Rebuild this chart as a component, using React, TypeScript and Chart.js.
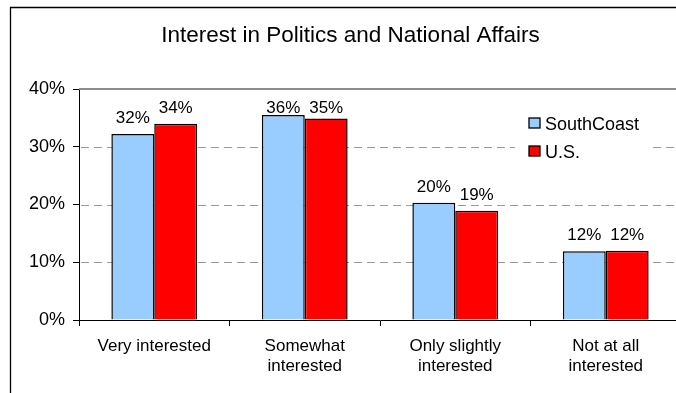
import React, { useEffect, useRef } from "react";
import { Chart, registerables } from "chart.js";

Chart.register(...registerables);

const chartTitle = "Interest in Politics and National Affairs";
const categories = [
  ["Very interested"],
  ["Somewhat", "interested"],
  ["Only slightly", "interested"],
  ["Not at all", "interested"],
];
const seriesNames = ["SouthCoast", "U.S."];
const southCoastValues = [32.2, 35.5, 20.3, 11.9];
const usValues = [34.0, 34.9, 18.9, 12.0];
const seriesColors = ["#99CCFF", "#FF0000"];
const yTickValues = [0, 10, 20, 30, 40];

const FONT = '"Liberation Sans", Arial, sans-serif';

const decorPlugin = {
  id: "decor",
  beforeDraw(chart: any) {
    const ctx = chart.ctx;
    ctx.save();
    ctx.strokeStyle = "#000";
    ctx.lineWidth = 1.3;
    ctx.beginPath();
    ctx.moveTo(10.5, chart.height + 5);
    ctx.lineTo(10.5, 7.5);
    ctx.lineTo(chart.width + 5, 7.5);
    ctx.stroke();
    ctx.font = `22.5px ${FONT}`;
    ctx.fillStyle = "#000";
    ctx.textAlign = "center";
    ctx.textBaseline = "alphabetic";
    ctx.fillText(chartTitle, (11 + chart.width) / 2, 42);
    ctx.restore();
  },
  beforeDatasetsDraw(chart: any) {
    const ctx = chart.ctx;
    const ca = chart.chartArea;
    const y = chart.scales.y;
    ctx.save();
    ctx.strokeStyle = "#999";
    ctx.lineWidth = 1;
    ctx.setLineDash([8, 5]);
    for (const v of yTickValues) {
      if (v <= y.min || v >= y.max) continue;
      const py = Math.round(y.getPixelForValue(v)) + 0.5;
      ctx.beginPath();
      ctx.moveTo(ca.left + 2, py);
      ctx.lineTo(ca.right, py);
      ctx.stroke();
    }
    ctx.setLineDash([]);
    ctx.strokeStyle = "#8c8c8c";
    ctx.lineWidth = 2;
    ctx.beginPath();
    ctx.moveTo(ca.left, ca.top);
    ctx.lineTo(ca.right + 10, ca.top);
    ctx.stroke();
    ctx.restore();
  },
  afterDatasetsDraw(chart: any) {
    const ctx = chart.ctx;
    const ca = chart.chartArea;
    ctx.save();
    ctx.font = `17px ${FONT}`;
    ctx.fillStyle = "#000";
    ctx.textAlign = "center";
    ctx.textBaseline = "alphabetic";
    chart.data.datasets.forEach((ds: any, di: number) => {
      const meta = chart.getDatasetMeta(di);
      meta.data.forEach((bar: any, i: number) => {
        const base = Math.max(bar.y - 11, ca.top + 24);
        ctx.fillText(Math.round(ds.data[i]) + "%", bar.x, base);
      });
    });
    // legend
    const lx = ca.right - 152;
    const ly = ca.top + 29;
    ctx.fillStyle = "#fff";
    ctx.fillRect(lx - 14, ly - 12, 136, 58);
    ctx.font = `18px ${FONT}`;
    ctx.textAlign = "left";
    chart.data.datasets.forEach((ds: any, di: number) => {
      const by = ly + di * 28;
      ctx.fillStyle = ds.backgroundColor;
      ctx.fillRect(lx, by, 11, 10);
      ctx.strokeStyle = "#000";
      ctx.lineWidth = 1.3;
      ctx.strokeRect(lx, by, 11, 10);
      ctx.fillStyle = "#000";
      ctx.fillText(ds.label, lx + 16, by + 11.5);
    });
    ctx.restore();
  },
};

export default function App() {
  const ref = useRef<HTMLCanvasElement>(null);
  useEffect(() => {
    if (!ref.current) return;
    const chart = new Chart(ref.current, {
      type: "bar",
      data: {
        labels: categories as any,
        datasets: [
          {
            label: seriesNames[0],
            data: southCoastValues,
            backgroundColor: seriesColors[0],
            borderColor: "#000",
            borderWidth: 1.5,
            categoryPercentage: 0.57,
            barPercentage: 1,
          },
          {
            label: seriesNames[1],
            data: usValues,
            backgroundColor: seriesColors[1],
            borderColor: "#000",
            borderWidth: 1.5,
            categoryPercentage: 0.57,
            barPercentage: 1,
          },
        ],
      },
      options: {
        animation: false,
        responsive: true,
        maintainAspectRatio: false,
        layout: { padding: { left: 0, top: 89, right: 9, bottom: 0 } },
        plugins: {
          legend: { display: false },
          title: { display: false },
          tooltip: { enabled: false },
        },
        scales: {
          x: {
            grid: {
              drawOnChartArea: false,
              drawTicks: true,
              tickLength: 6,
              tickColor: "#000",
              offset: true,
            },
            border: { color: "#000", width: 1 },
            ticks: {
              color: "#000",
              font: { family: FONT, size: 17, lineHeight: 1.2 },
              padding: 10,
              maxRotation: 0,
              autoSkip: false,
            },
            afterFit: (scale: any) => {
              scale.height = 73;
            },
          },
          y: {
            min: 0,
            max: 40,
            grid: {
              drawOnChartArea: false,
              drawTicks: true,
              tickLength: 6,
              tickColor: "#000",
            },
            border: { color: "#000", width: 1 },
            ticks: {
              stepSize: 10,
              color: "#000",
              font: { family: FONT, size: 18 },
              padding: 8,
              callback: (v: any) => v + "%",
            },
            afterFit: (scale: any) => {
              scale.width = 79;
            },
          },
        },
      },
      plugins: [decorPlugin],
    });
    return () => chart.destroy();
  }, []);
  return (
    <div
      style={{
        position: "absolute",
        left: 0,
        top: 0,
        width: 676,
        height: 393,
        overflow: "hidden",
        background: "#fff",
      }}
    >
      <div style={{ position: "relative", width: 690, height: 393 }}>
        <canvas ref={ref} />
      </div>
    </div>
  );
}
